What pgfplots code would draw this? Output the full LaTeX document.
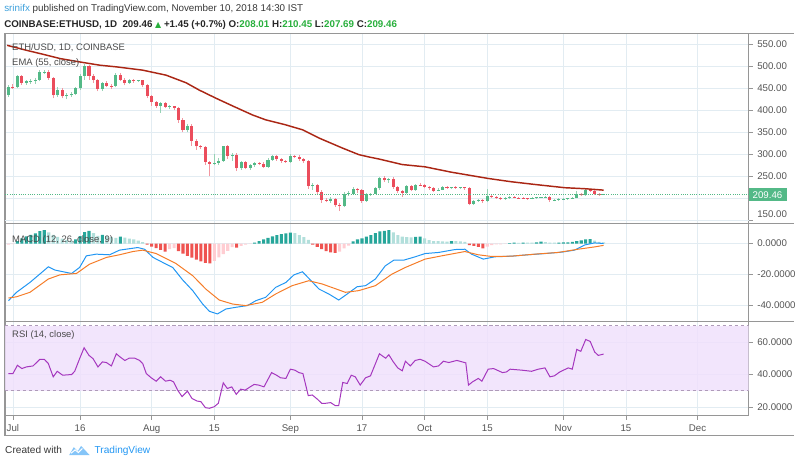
\documentclass[border=0pt]{standalone}
\usepackage{fontspec}
\setmainfont{Liberation Sans}
\newfontfamily\dejavu{DejaVu Sans}
\usepackage{pgfplots}
\usepackage{pgfplotstable}
\pgfplotsset{compat=1.18}

\definecolor{cup}{RGB}{83,185,135}
\definecolor{cdn}{RGB}{235,77,92}
\definecolor{wup}{RGB}{150,210,180}
\definecolor{wdn}{RGB}{242,150,160}
\definecolor{ema}{RGB}{170,38,20}
\definecolor{gridc}{RGB}{226,236,242}
\definecolor{framec}{RGB}{150,150,150}
\definecolor{tickc}{RGB}{85,85,85}
\definecolor{macdblue}{RGB}{33,150,243}
\definecolor{sigorange}{RGB}{245,124,40}
\definecolor{hG}{RGB}{38,166,154}
\definecolor{hg}{RGB}{178,223,219}
\definecolor{hR}{RGB}{239,83,80}
\definecolor{hp}{RGB}{255,205,210}
\definecolor{rsic}{RGB}{165,55,190}
\definecolor{rsiband}{RGB}{240,224,252}
\definecolor{rsidash}{RGB}{175,155,185}
\definecolor{tvblue}{RGB}{33,150,243}
\definecolor{userblue}{RGB}{60,160,220}
\definecolor{valgreen}{RGB}{40,175,60}
\definecolor{legc}{RGB}{75,75,75}
\definecolor{headc}{RGB}{55,55,55}

\pgfplotstableread{
d O H L C
-1 435 457 431 454
1 452 481 450 478
3 462 469 458 466
4 466 471 460 467
5 467 473 461 469
6 469 492 466 486
7 486 492 482 488
10 434 452 430 446
12 432 440 425 434
13 434 441 430 437
14 437 452 434 450
15 450 482 447 478
16 478 505 470 500
20 448 465 444 462
23 455 484 452 480
26 462 472 460 469
28 467 470 464 468.5
33 410 420 395 416
35 408 412 402 409.5
39 355 370 350 365
45 279 300 275 281
46 281 291 276 286
47 286 320 283 318
49 297 304 286 298.5
51 268 285 265 282
53 270 279 265 276
54 276 283 272 280
57 272 291 270 288
58 288 299 286 296
62 283 301 281 296
67 228 235 220 229.5
71 195 203 189 198
74 182 214 180 210
75 210 216 206 211.5
76 211 225 208 221
79 195 212 192 209
80 209 213 206 211
81 211 225 209 223
82 223 249 220 246
84 241 247 236 245
88 213 231 211 228
90 219 233 217 231
95 217 224 216 220
96 220 228 218 226
98 223 227 221 226
100 224 227 221 225.5
103 188 196 186 194
104 194 198 192 196
106 194 222 191 205
110 199 204 197 202
111 202 205 199 203.5
116 199 203 198 201
117 201 204 199 202.5
118 202 204 200 203.5
119 202.5 205 201 204
121 196 199 194 197.5
122 197 200 195 198.5
123 198 201 196 199.5
124 199 202 197 200.5
125 200 203 199 201.5
126 201 216 200 209
128 207 224 206 220
132 208.01 210.45 207.69 209.46
}\up

\pgfplotstableread{
d O H L C
0 454 461 449 452
2 478 480 458 462
8 488 491 470 474
9 474 476 427 434
11 446 450 427 432
17 500 503 470 478
18 478 482 462 469
19 469 472 443 448
21 462 466 452 456
22 456 460 448 454.5
24 480 485 466 470
25 470 473 457 462
27 469 472 463 467
29 468 470 452 457
30 457 459 428 433
31 433 436 410 419
32 419 422 405 410
34 416 418 405 408
36 409 411 400 405
37 405 408 372 378
38 378 382 350 355
40 365 368 320 330
41 330 334 310 318
42 318 322 312 316
43 316 318 276 283
44 283 286 250 279
48 318 321 290 297
50 298 302 262 268
52 282 286 266 270
55 280 283 275 278.5
56 279 282 269 272
59 296 299 285 289
60 289 292 280 285
61 285 287 281 283
63 296 299 292 294.5
64 295 298 286 289
65 289 291 280 284
66 284 288 222 228
68 229.5 232 210 214
69 214 218 190 196
70 196 200 191 194.5
72 198 200 180 184
73 184 190 171 182
77 221 224 212 219
78 219 222 190 195
83 246 251 238 241
85 245 248 222 226
86 226 229 213 217
87 217 220 204 213
89 228 230 216 219
91 231 235 228 229.5
92 230 233 223 226
93 226 229 220 223
94 223 225 214 217
97 226 228 221 223
99 226 228 222 224
101 225 227 220 223
102 223 225 184 188
105 196 199 190 194
107 205 210 201 203.5
108 204 206 199 202
109 202 204 196 199
112 203 205 200 201.5
113 202 204 199 200.5
114 201 203 199 199.5
115 200 202 197 198.5
120 204 204.5 192 196
127 209 213 205 207
129 220 222 214 217
130 217 219 208 210
131 210 212 206 208
}\down

\pgfplotsset{
  tvpane/.style={
    scale only axis, width=559.5pt, xmin=-1.78, xmax=164.4,
    anchor=north west,
    axis line style={draw=framec, line width=0.8pt},
    xtick={0,15,31,45,62,78,92,106,123,137,153},
    xmajorgrids, ymajorgrids,
    grid style={draw=gridc, line width=0.6pt},
    ytick pos=right, ytick align=outside, xtick pos=bottom,
    major tick length=3pt,
    tick style={draw=framec, line width=0.6pt},
    /pgf/number format/assume math mode=true,
    /pgf/number format/fixed,
    /pgf/number format/fixed zerofill,
    yticklabel style={font=\fontsize{7.3}{8}\selectfont, text=tickc},
    xticklabel style={font=\fontsize{7.3}{8}\selectfont, text=tickc},
  },
  nox/.style={xticklabels={,,,,,,,,,,}, xtick style={draw=none}},
  candle/.style={draw=none, mark=none, forget plot,
    error bars/.cd, y dir=plus, y explicit, error mark=none,
    error bar style={draw=#1, line width=2.3pt, line cap=butt}},
  wick/.style={draw=none, mark=none, forget plot,
    error bars/.cd, y dir=plus, y explicit, error mark=none,
    error bar style={draw=#1, line width=0.75pt, line cap=butt}},
  hist/.style={ybar, bar width=2.3pt, bar shift=0pt, fill=#1, draw=none},
}

\begin{document}
\begin{tikzpicture}
\path (0pt,0pt) rectangle (600pt,-349.5pt);

% ---------- price pane ----------
\begin{axis}[tvpane, nox, at={(3.75pt,-25.5pt)}, height=142.5pt,
  ymin=143.5, ymax=573.7, ytick={200,250,...,550},
  yticklabels={,250.00,300.00,350.00,400.00,450.00,500.00,550.00},
  /pgf/number format/precision=2,
  extra y ticks={150},
  extra y tick style={yticklabel style={yshift=4.5pt}}]
\addplot[wick=wup] table[x=d, y=L, y error expr=\thisrow{H}-\thisrow{L}] {\up};
\addplot[wick=wdn] table[x=d, y=L, y error expr=\thisrow{H}-\thisrow{L}] {\down};
\addplot[candle=cup] table[x=d, y=O, y error expr=\thisrow{C}-\thisrow{O}] {\up};
\addplot[candle=cdn] table[x=d, y=C, y error expr=\thisrow{O}-\thisrow{C}] {\down};
\addplot[cup, densely dotted, line width=0.7pt] coordinates {(-1.78,209.46) (164.4,209.46)};
\addplot[ema, line width=1.1pt] coordinates {
(-1.3,547.7) (3.0,536.5) (6.7,527.4) (10.5,517.7) (14.9,510) (19.4,502.6) (23.1,498.8)
(29,491.3) (34.2,480) (38.7,462.6) (41.6,446.2) (45.4,427.4) (49.1,410) (53.5,389.7)
(56.5,378.4) (60.9,367.2) (64.7,355.9) (68.4,337.1) (73.6,314.5) (77.3,299.4) (79.5,294.2)
(81.7,289.7) (87,276.9) (92.1,271.7) (98,259.5) (103.2,250.5) (106.2,245.3) (111.4,237.8)
(116.6,231.7) (123.3,224.3) (127.8,222) (132,218.8)};
\end{axis}

% ---------- MACD pane ----------
\begin{axis}[tvpane, nox, at={(3.75pt,-168pt)}, height=74.25pt,
  ymin=-50.8, ymax=13.1, ytick={-40,-20,0},
  /pgf/number format/precision=4]
\addplot[hist=hG] coordinates {(1,1.6)(2,3.4)(3,4.6)(4,5.6)(5,6.6)(6,8.0)(7,8.6)
 (14,2.6)(15,4.8)(16,7.4)(17,8.2)(20,5.6)(24,4.4)
 (54,0.6)(55,1.6)(56,2.6)(57,3.6)(58,4.6)(59,5.4)(60,6.0)(61,6.5)(62,7.0)
 (76,1.4)(77,2.6)(78,3.4)(79,4.4)(80,5.5)(81,6.8)(82,7.8)(83,8.2)(84,8.6)
 (90,4.3)(91,4.5)(98,1.6)(111,0.2)(112,0.5)(114,0.6)(117,0.7)(118,1.2)
 (122,0.6)(123,0.7)(124,0.8)(125,1.0)(126,1.6)(127,2.1)(128,2.7)(129,2.9)};
\addplot[hist=hg] coordinates {(8,7.2)(9,5.6)(10,4.3)(11,3.2)(12,2.3)(13,1.8)
 (18,6.8)(19,5.0)(21,4.8)(22,4.2)(23,3.6)(25,3.8)(26,3.2)(27,2.6)(28,1.9)(29,0.9)
 (63,6.8)(64,5.5)(65,4.2)(66,2.4)
 (85,7.2)(86,5.4)(87,4.4)(88,4.2)(89,4.0)(92,3.3)(93,2.2)(94,1.6)(95,1.5)(96,1.4)(97,1.3)
 (99,1.5)(100,1.4)(101,1.1)(113,0.4)(115,0.5)(116,0.5)(119,0.9)(120,0.6)(121,0.5)
 (130,1.8)(131,1.1)(132,0.7)};
\addplot[hist=hR] coordinates {(30,-0.8)(31,-2.0)(32,-3.0)(33,-4.2)(34,-5.2)
 (37,-5.0)(38,-6.6)(39,-8.0)(40,-9.2)(41,-10.4)(42,-11.6)(43,-12.6)(44,-12.9)(50,-2.6)
 (67,-0.8)(68,-2.2)(69,-3.6)(70,-5.0)(71,-5.8)(72,-6.0)
 (102,-1.0)(103,-1.5)(104,-2.2)(105,-3.2)};
\addplot[hist=hp] coordinates {(-1,-0.8)(0,-0.4)(35,-3.6)(36,-3.0)
 (45,-11.2)(46,-9.0)(47,-6.9)(48,-4.8)(49,-2.3)(51,-1.5)(52,-0.8)(53,-0.3)
 (73,-5.2)(74,-3.2)(75,-1.3)(106,-2.0)(107,-1.0)(108,-0.6)(109,-0.5)(110,-0.3)};
\addplot[macdblue, line width=0.75pt] coordinates {
(-1,-37)(0.8,-31.6)(3.8,-25.2)(6,-19.8)(7.9,-15.1)(9.4,-17.2)(11.9,-18.7)(13.1,-19.4)
(14.9,-15.5)(16.4,-8)(18.6,-6.9)(21.6,-7.3)(23.8,-4.3)(27.9,-2.6)(29.4,-3.7)(31.3,-9)
(33.5,-12.3)(35.7,-15.5)(37.9,-23.5)(40.2,-30.6)(42.4,-39.2)(43.9,-43.9)(45.7,-45.6)
(47.6,-42.4)(49.8,-41.3)(52.4,-40.2)(54.3,-37)(56.5,-34.8)(58.7,-28.4)(61,-25.2)
(62.8,-20.3)(64.7,-18.3)(66.5,-23.7)(68.4,-29.5)(70.6,-32.7)(72.8,-36.6)(74.7,-32.7)
(76.9,-28)(78.8,-27.3)(81,-23)(83.2,-14.5)(85.1,-10.8)(87.3,-10.8)(89.9,-8.6)(92.1,-6.5)
(95.1,-5.8)(98.8,-3.9)(101,-3.7)(102.5,-6.9)(105.1,-10.1)(107.7,-8.6)(111.4,-8.2)
(115.1,-7.3)(118.9,-6.5)(122.6,-5.6)(125.5,-4.3)(127.8,-0.9)(130,0.4)(132,0)};
\addplot[sigorange, line width=0.75pt] coordinates {
(-1,-35.3)(0.8,-34.5)(3.8,-31.6)(7.9,-23)(10.5,-20.3)(14.2,-19.4)(17.1,-13.4)(20.9,-9)
(23.8,-7.3)(26.8,-5.2)(29,-4.3)(32,-6.5)(36.4,-12.9)(40.2,-20.9)(43.1,-29.5)(46.1,-36.6)
(49.1,-39.2)(52,-40.2)(55.7,-38.1)(58.7,-32.7)(62.4,-27.3)(66.1,-24.1)(69.1,-26.2)
(74.3,-31.6)(77.3,-30.5)(81,-27.3)(84.7,-19.8)(87.7,-15.5)(92.1,-10.1)(95.8,-8)(101,-5.2)
(104,-7.3)(107,-8.4)(111.4,-8.2)(116.6,-6.9)(121.8,-5.8)(126.3,-3.7)(130,-2.2)(132,-1.2)};
\end{axis}

% ---------- RSI pane ----------
\begin{axis}[tvpane, at={(3.75pt,-242.25pt)}, height=70.7pt,
  ymin=14.5, ymax=72.4, ytick={20,40,60},
  xtick align=outside,
  xticklabels={Jul,16,Aug,15,Sep,17,Oct,15,Nov,15,Dec},
  /pgf/number format/precision=4]
\fill[rsiband, fill opacity=0.85] (axis cs:-1.78,30) rectangle (axis cs:164.4,70);
\draw[rsidash, line width=0.6pt, dash pattern=on 2.5pt off 2pt] (axis cs:-1.78,70) -- (axis cs:164.4,70);
\draw[rsidash, line width=0.6pt, dash pattern=on 2.5pt off 2pt] (axis cs:-1.78,30) -- (axis cs:164.4,30);
\addplot[rsic, line width=0.75pt] coordinates {
(-1,40.6)(0,40.6)(1,45.7)(2,43.7)(3,44.7)(4.5,45.3)(6,49.4)(7,49.4)(7.9,46.8)(9,38.6)
(9.9,42.0)(11.1,39.6)(13.1,40)(13.8,42)(14.9,49.8)(15.9,56.5)(17,51.8)(17.9,49.8)(19,44.7)
(20,47.8)(20.9,47.4)(22,45.3)(23.1,52.8)(24,50.7)(25,48.7)(26,50.1)(27.2,50.1)(28.3,48.7)
(29,46.8)(29.8,40.6)(30.9,38)(32,35.9)(33,38.6)(34.1,35.9)(35.1,36.5)(35.9,35.5)(36.8,30.4)
(37.8,26.4)(39,29.8)(40,25.3)(41.1,23.7)(42,23.3)(43,19.6)(43.9,19.2)(45,20.2)(45.9,22.3)
(47,34.9)(47.9,31.4)(48.9,32.4)(49.9,27.8)(50.9,31)(51.9,30.4)(53,32.4)(53.9,33.9)
(54.9,33.5)(56.1,32.4)(57.8,41.2)(58.9,39.6)(59.8,38)(61,37.6)(62,43.3)(63,42.7)(63.9,41.2)
(64.8,40.6)(66,27)(66.9,27.4)(68,24.9)(69,22.3)(69.9,22.3)(71,22.7)(72,20.9)(72.8,20.9)
(73.7,35.1)(74.7,34.5)(75.6,39.6)(76.5,38.6)(77.6,33.5)(78.8,38)(79.9,39.2)(80.8,45.3)
(81.9,52.8)(82.7,51.2)(83.3,50.1)(84,52.2)(85,47.8)(86,44.1)(87,42.3)(87.7,48.2)(88.8,45.3)
(89.9,48.7)(91,49.4)(92.1,48.2)(94,44.7)(95.1,45.3)(96.2,48.2)(97.4,47.4)(99.2,48.7)
(101.2,47.2)(101.8,33.5)(102.7,35.5)(104,37.6)(104.8,35.9)(106.2,43.3)(107.4,43.7)
(109.4,41.2)(110.3,41.6)(111.1,43.3)(113.7,42.7)(115.9,42)(117.4,43.3)(118.9,44.1)(120,38.6)
(121,39.2)(122.2,41.6)(124.1,44.1)(125,43.3)(126,55.5)(126.9,54.3)(128,61.6)(129,60.4)
(130,53.9)(130.8,51.8)(132,52.6)};
\end{axis}

% ---------- frame pieces ----------
\draw[framec, line width=0.8pt] (563.25pt,-168pt) -- (597.75pt,-168pt);
\draw[framec, line width=0.8pt] (563.25pt,-242.25pt) -- (597.75pt,-242.25pt);
\draw[framec, line width=0.8pt] (563.25pt,-25.5pt) -- (597.75pt,-25.5pt);
\draw[framec, line width=1pt] (3.75pt,-312.75pt) -- (3.75pt,-327.75pt) -- (597.75pt,-327.75pt);

% price label
\fill[cup] (563.8pt,-141.8pt) rectangle (592pt,-151.6pt);
\node[anchor=center, inner sep=0pt, text=white, font=\fontsize{7.3}{8}\selectfont] at (577.5pt,-146.7pt) {209.46};

% pane legends
\node[anchor=base west, inner sep=0pt, text=legc, font=\fontsize{7.1}{9}\selectfont] at (9pt,-38pt) {ETH/USD, 1D, COINBASE};
\node[anchor=base west, inner sep=0pt, text=legc, font=\fontsize{7.1}{9}\selectfont] at (9pt,-49.5pt) {EMA (55, close)};
\node[anchor=base west, inner sep=0pt, text=legc, font=\fontsize{7.1}{9}\selectfont] at (9pt,-182.3pt) {MACD (12, 26, close, 9)};
\node[anchor=base west, inner sep=0pt, text=legc, font=\fontsize{7.1}{9}\selectfont] at (9pt,-254.3pt) {RSI (14, close)};

% header
\node[anchor=base west, inner sep=0pt, text=headc, font=\fontsize{7.4}{9}\selectfont] at (3pt,-8.8pt)
 {\textcolor{userblue}{srinifx} published on TradingView.com, November 10, 2018 14:30 IST};
\node[anchor=base west, inner sep=0pt, text=black!85, font=\bfseries\fontsize{7.35}{9}\selectfont] at (3pt,-20.4pt)
 {COINBASE:ETHUSD, 1D\ \ 209.46 {\dejavu\fontsize{6}{7}\selectfont\textcolor{valgreen}{▲}} +1.45 (+0.7\%) O:\textcolor{valgreen}{208.01} H:\textcolor{valgreen}{210.45} L:\textcolor{valgreen}{207.69} C:\textcolor{valgreen}{209.46}};

% footer
\node[anchor=base west, inner sep=0pt, text=headc, font=\fontsize{7.6}{9}\selectfont] at (3.75pt,-341.5pt) {Created with};
\fill[tvblue!55] (52pt,-342.5pt) -- (55.5pt,-336.5pt) -- (58.5pt,-339.5pt) -- (61pt,-335.5pt) -- (67.5pt,-342.5pt) -- cycle;
\draw[white, line width=0.8pt] (53.5pt,-341pt) -- (56.5pt,-338.5pt) -- (59pt,-340.5pt) -- (62pt,-337.5pt);
\node[anchor=base west, inner sep=0pt, text=tvblue, font=\fontsize{7.6}{9}\selectfont] at (71pt,-341.5pt) {TradingView};
\end{tikzpicture}
\end{document}
